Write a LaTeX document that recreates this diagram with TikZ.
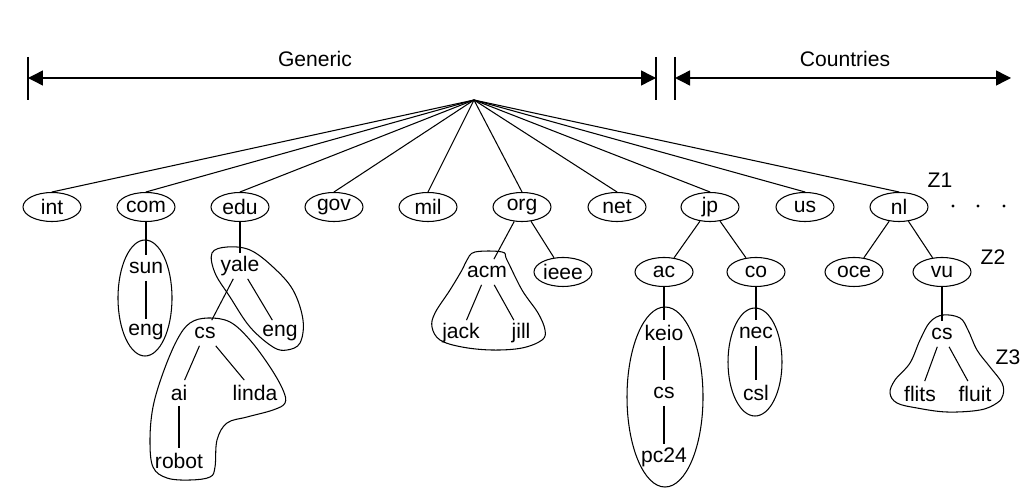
\documentclass[tikz,border=0pt]{standalone}
\usepackage{fontspec}
\setmainfont{Liberation Sans}
\usetikzlibrary{arrows.meta, positioning, shapes.geometric}

\begin{document}
\begin{tikzpicture}[
    x=0.02cm, y=-0.02cm,
    font=\fontsize{12}{14}\selectfont,
    dom/.style={draw, ellipse, line width=0.6pt, minimum width=1.16cm, minimum height=0.58cm, inner sep=0pt},
    lbl/.style={inner sep=1pt, minimum height=0.5cm},
    br/.style={line width=0.6pt},
    zone/.style={line width=0.6pt},
    span/.style={{Triangle[length=3mm, width=3mm]}-{Triangle[length=3mm, width=3mm]}, line width=0.8pt},
    on grid
  ]
    \useasboundingbox (0,0) rectangle (1023,500);

    % top span arrows
    \coordinate (genL) at (28,78);
    \coordinate (genR) at (656,78);
    \coordinate (couL) at (675,78);
    \coordinate (couR) at (1011,78);
    \draw[line width=0.6pt] (28,57) -- (28,100) (656,57) -- (656,100) (675,57) -- (675,100);
    \draw[span] (genL) -- (genR);
    \draw[span] (couL) -- (couR);
    \node (generic) at (315,59) {Generic};
    \node (countries) at (845,59) {Countries};

    % top-level domains
    \coordinate (root) at (474,100);
    \node[dom] (int) at (52,207) {int};
    \node[dom] (com) at (146,207) {com};
    \node[dom] (edu) at (240,207) {edu};
    \node[dom] (gov) at (334,207) {gov};
    \node[dom] (mil) at (428,207) {mil};
    \node[dom] (org) at (522,207) {org};
    \node[dom] (net) at (617,207) {net};
    \node[dom] (jp) at (710,207) {jp};
    \node[dom] (us) at (805,207) {us};
    \node[dom] (nl) at (899,207) {nl};

    \draw[br] (root) -- (int.north);  \draw[br] (root) -- (com.north);
    \draw[br] (root) -- (edu.north);  \draw[br] (root) -- (gov.north);
    \draw[br] (root) -- (mil.north);  \draw[br] (root) -- (org.north);
    \draw[br] (root) -- (net.north);  \draw[br] (root) -- (jp.north);
    \draw[br] (root) -- (us.north);   \draw[br] (root) -- (nl.north);

    \node (zA) at (940,180) {Z1};
    \fill (953,206) circle (1.6) (978,206) circle (1.6) (1004,206) circle (1.6);

    % com
    \node[lbl, below=1.22cm of com] (sun) {sun};
    \node[lbl, below=1.28cm of sun] (sunEng) {eng};
    \draw[br] (com) -- (sun);
    \draw[br] (sun) -- (sunEng);
    \draw[zone] (145,298) ellipse (27 and 58);

    % edu
    \node[lbl, below=1.18cm of edu] (yale) {yale};
    \node[lbl, below left=1.34cm and 0.7cm of yale] (yaleCs) {cs};
    \node[lbl, below right=1.34cm and 0.8cm of yale] (yaleEng) {eng};
    \node[lbl, below left=1.2cm and 0.52cm of yaleCs] (ai) {ai};
    \node[lbl, below right=1.2cm and 1.0cm of yaleCs] (linda) {linda};
    \node[lbl, below=1.36cm of ai] (robot) {robot};
    \draw[br] (edu) -- (yale);
    \draw[br] (yale) -- (yaleCs);
    \draw[br] (yale) -- (yaleEng);
    \draw[br] (yaleCs) -- (ai);
    \draw[br] (yaleCs) -- (linda);
    \draw[br] (ai) -- (robot);
    \draw[zone] plot[smooth cycle, tension=0.6] coordinates {(212,253) (227,247) (250,250) (273,267) (293,290) (303,320) (300,343) (287,350) (273,347) (250,327) (230,297) (215,273)};
    \draw[zone] plot[smooth cycle, tension=0.6] coordinates {(208,318) (190,323) (177,340) (163,373) (153,407) (150,440) (153,467) (167,478) (190,480) (210,477) (215,467) (217,440) (227,423) (247,417) (273,410) (285,403) (283,390) (270,367) (250,340) (230,322)};

    % org
    \node[lbl, below left=1.3cm and 0.7cm of org] (acm) {acm};
    \node[dom, below right=1.3cm and 0.82cm of org] (ieee) {ieee};
    \node[lbl, below left=1.22cm and 0.52cm of acm] (jack) {jack};
    \node[lbl, below right=1.22cm and 0.68cm of acm] (jill) {jill};
    \draw[br] (org) -- (acm);
    \draw[br] (org) -- (ieee);
    \draw[br] (acm) -- (jack);
    \draw[br] (acm) -- (jill);
    \draw[zone] plot[smooth cycle, tension=0.6] coordinates {(467,260) (475,252) (502,252) (507,260) (522,290) (538,313) (545,330) (542,340) (522,348) (492,350) (462,347) (440,340) (432,327) (435,313) (450,290) (462,270)};

    % jp
    \node[dom, below left=1.3cm and 0.92cm of jp] (ac) {ac};
    \node[dom, below right=1.3cm and 0.92cm of jp] (co) {co};
    \node[lbl, below=1.22cm of ac] (keio) {keio};
    \node[lbl, below=1.2cm of keio] (keioCs) {cs};
    \node[lbl, below=1.28cm of keioCs] (pc) {pc24};
    \node[lbl, below=1.22cm of co] (nec) {nec};
    \node[lbl, below=1.2cm of nec] (csl) {csl};
    \draw[br] (jp) -- (ac);
    \draw[br] (jp) -- (co);
    \draw[br] (ac) -- (keio);
    \draw[br] (keio) -- (keioCs);
    \draw[br] (keioCs) -- (pc);
    \draw[br] (co) -- (nec);
    \draw[br] (nec) -- (csl);
    \draw[zone] (665,397) ellipse (38 and 90);
    \draw[zone] (755,362) ellipse (27 and 54);

    % nl
    \node[dom, below left=1.3cm and 0.9cm of nl] (oce) {oce};
    \node[dom, below right=1.3cm and 0.86cm of nl] (vu) {vu};
    \node[lbl, below=1.24cm of vu] (vuCs) {cs};
    \node[lbl, below left=1.2cm and 0.44cm of vuCs] (flits) {flits};
    \node[lbl, below right=1.2cm and 0.66cm of vuCs] (fluit) {fluit};
    \draw[br] (nl) -- (oce);
    \draw[br] (nl) -- (vu);
    \draw[br] (vu) -- (vuCs);
    \draw[br] (vuCs) -- (flits);
    \draw[br] (vuCs) -- (fluit);
    \draw[zone] plot[smooth cycle, tension=0.6] coordinates {(930,322) (943,315) (960,318) (968,330) (977,350) (990,367) (1002,383) (1003,395) (997,403) (980,410) (947,412) (917,408) (897,403) (890,393) (895,380) (910,363) (920,340)};
    \node (zB) at (993,257) {Z2};
    \node (zC) at (1008,357) {Z3};
  \end{tikzpicture}
\end{document}
